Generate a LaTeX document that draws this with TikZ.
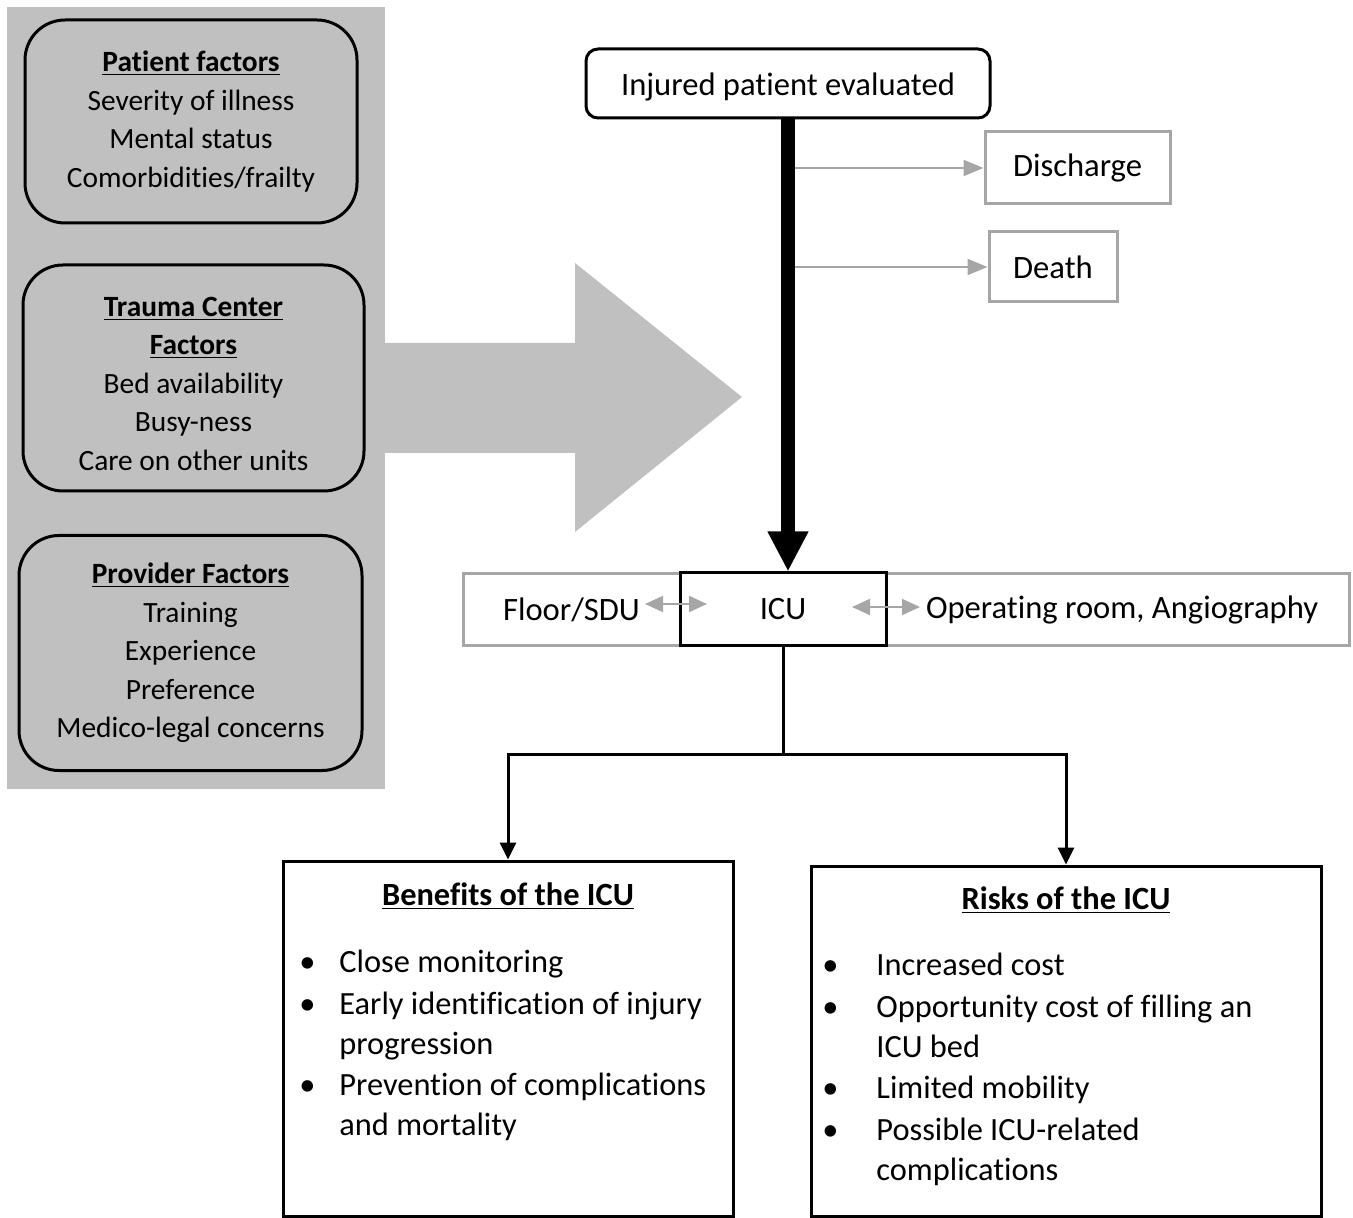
\documentclass[tikz,border=0pt]{standalone}
\usepackage{fontspec}
\setmainfont[Ligatures=NoCommon]{Carlito}
\usetikzlibrary{arrows.meta,positioning}

\definecolor{panelgray}{RGB}{192,192,192}
\definecolor{boxgray}{RGB}{166,166,166}

\tikzset{
  factor/.style={draw=black,line width=1.5pt,rounded corners=20pt,align=center,
    inner sep=0pt,font=\fontsize{14.7}{19.25}\selectfont},
  outcome/.style={draw=boxgray,line width=1.5pt,inner sep=0pt,
    font=\fontsize{16.3}{18}\selectfont},
  sidearrow/.style={boxgray,line width=1pt,-{Triangle[width=8pt,length=10pt]}},
  twoway/.style={boxgray,line width=1pt,
    {Triangle[width=8pt,length=9pt]}-{Triangle[width=8pt,length=9pt]}},
  tree/.style={line width=1.5pt,-{Triangle[width=8pt,length=8.5pt]}},
  listbox/.style={draw=black,line width=1.5pt,inner sep=0pt},
  listtext/.style={anchor=west,inner sep=0pt,text height=11pt,text depth=1pt,
    font=\fontsize{16.2}{19}\selectfont},
  listhead/.style={inner sep=0pt,text height=11pt,text depth=1pt,
    font=\fontsize{16.2}{19}\selectfont\bfseries}
}

\begin{document}
\begin{tikzpicture}[x=0.5pt,y=-0.5pt]
  \useasboundingbox (0,0) rectangle (1353,1218);

  % left panel and big arrow
  \fill[panelgray] (7,7) rectangle (385,789);
  \fill[panelgray] (385,343) -- (575,343) -- (575,263) -- (742,397)
    -- (575,532) -- (575,453) -- (385,453) -- cycle;

  \node[factor,minimum width=166pt,minimum height=101.5pt] (patient) at (191,121.5)
    {\underline{\textbf{Patient factors}}\\Severity of illness\\Mental status\\
     Comorbidities/frailty};
  \node[factor,minimum width=170.5pt,minimum height=113pt] (center) at (193.5,378)
    {\\[-4pt]\underline{\textbf{Trauma Center}}\\\underline{\textbf{Factors}}\\
     Bed availability\\Busy-ness\\Care on other units};
  \node[factor,minimum width=171.5pt,minimum height=117.5pt] (provider) at (190.5,653)
    {\underline{\textbf{Provider Factors}}\\Training\\Experience\\Preference\\
     Medico-legal concerns};

  % top of the flow
  \node[draw=black,line width=1.5pt,rounded corners=6pt,inner sep=0pt,
    minimum width=202pt,minimum height=34.5pt,text height=13pt,text depth=1pt,
    font=\fontsize{16.3}{18}\selectfont]
    (injured) at (788,83.5) {Injured patient evaluated};
  \node[outcome,minimum width=92.5pt,minimum height=36pt] (discharge) at (1077.5,168) {Discharge};
  \node[outcome,minimum width=64pt,minimum height=35pt] (death) at (1053,267) {Death};

  % middle row
  \node[outcome,minimum width=108.5pt,minimum height=35.5pt] (floor) at (571.5,609.5) {Floor/SDU};
  \node[outcome,minimum width=231.5pt,minimum height=35.5pt] (oper) at (1117.5,609.5)
    {\hspace*{4.5pt}Operating room, Angiography};
  \node[draw=black,line width=1.5pt,inner sep=0pt,minimum width=103pt,minimum height=36pt,
    font=\fontsize{16.3}{18}\selectfont] (icu) at (783,609) {ICU};

  \draw[line width=7pt,-{Triangle[width=19pt,length=20pt]}]
    (injured.south) -- (injured.south |- icu.north);
  \coordinate (d-from) at (795,168);
  \coordinate (x-from) at (795,267);
  \draw[sidearrow] (d-from) -- (discharge.west);
  \draw[sidearrow] (x-from) -- (death.west);

  \coordinate (fl-a) at (645,604);
  \coordinate (fl-b) at (707,604);
  \coordinate (op-a) at (852,607);
  \coordinate (op-b) at (920,607);
  \draw[twoway] (fl-a) -- (fl-b);
  \draw[twoway] (op-a) -- (op-b);

  % bottom boxes
  \node[listbox,minimum width=225pt,minimum height=177.5pt] (benefits) at (508,1038.5) {};
  \node[listbox,minimum width=255pt,minimum height=175pt] (risks) at (1066,1041) {};

  \coordinate (split) at (783,754);
  \draw[tree] (icu.south) -- (split) -| (benefits.north);
  \draw[tree] (split) -| (risks.north);

  \node[listhead] (ben-head) at (508,895) {\underline{Benefits of the ICU}};
  \foreach \y/\t [count=\i] in {962/Close monitoring,
      1004/Early identification of injury, 1044/progression,
      1085/Prevention of complications, 1125/and mortality}
    \node[listtext] (ben-\i) at (339,\y) {\t};
  \foreach \y [count=\i] in {962,1004,1085}
    \node[listtext] (ben-dot-\i) at (299,\y) {\textbullet};

  \node[listhead] (risk-head) at (1066,899) {\underline{Risks of the ICU}};
  \foreach \y/\t [count=\i] in {965/Increased cost,
      1007/Opportunity cost of filling an, 1047/ICU bed,
      1088/Limited mobility, 1130/Possible ICU-related, 1170/complications}
    \node[listtext] (risk-\i) at (876,\y) {\t};
  \foreach \y [count=\i] in {965,1007,1088,1130}
    \node[listtext] (risk-dot-\i) at (822,\y) {\textbullet};
\end{tikzpicture}
\end{document}
